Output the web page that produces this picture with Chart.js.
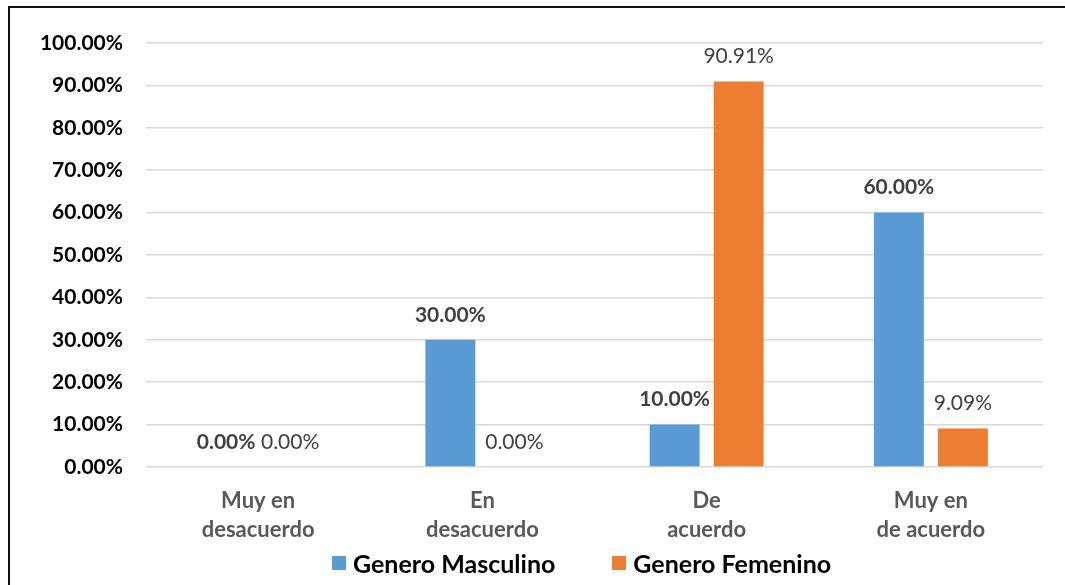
<!DOCTYPE html>
<html>
<head>
<meta charset="utf-8">
<script src="https://cdn.jsdelivr.net/npm/chart.js@4.4.1/dist/chart.umd.min.js"></script>
<style>
    html, body { margin: 0; padding: 0; background: #fff; }
    #wrap { position: relative; width: 1065px; height: 585px; overflow: hidden; }
    #frame { position: absolute; left: 8px; top: 6px; right: 0; bottom: 0;
             border-left: 2px solid #111; border-top: 2px solid #111; pointer-events: none; }
    #legend { position: absolute; left: 332px; top: 548px; display: flex; gap: 57px;
              font: bold 25px Lato, "Open Sans", sans-serif; color: #000; }
    #legend span.item { display: flex; align-items: center; }
    #legend span.box { width: 14px; height: 14px; margin-right: 7px; }
</style>
</head>
<body>
<div id="wrap">
    <canvas id="chart" width="1065" height="585"></canvas>
    <div id="legend"></div>
    <div id="frame"></div>
</div>
<script>
const categories = [['Muy en', 'desacuerdo'], ['En', 'desacuerdo'], ['De', 'acuerdo'], ['Muy en', 'de acuerdo']];
const masculino = [0, 30, 10, 60];
const femenino = [0, 0, 90.91, 9.09];
const yTicks = [0, 10, 20, 30, 40, 50, 60, 70, 80, 90, 100];

const FONT = 'Lato, "Open Sans", sans-serif';

// labels drawn above each bar, bold for the first series
const barLabels = {
    id: 'barLabels',
    afterDatasetsDraw(chart) {
        const ctx = chart.ctx;
        ctx.save();
        ctx.textAlign = 'center';
        ctx.textBaseline = 'middle';
        ctx.fillStyle = '#404040';
        chart.data.datasets.forEach((ds, i) => {
            ctx.font = (i === 0 ? 'bold ' : '') + '21px ' + FONT;
            chart.getDatasetMeta(i).data.forEach((bar, j) => {
                ctx.fillText(ds.data[j].toFixed(2) + '%', bar.x, bar.y - 25);
            });
        });
        ctx.restore();
    }
};

const chart = new Chart(document.getElementById('chart'), {
    type: 'bar',
    data: {
        labels: categories,
        datasets: [{
            label: 'Genero Masculino',
            data: masculino,
            backgroundColor: '#5B9BD5',
            barPercentage: 0.78,
            categoryPercentage: 0.571
        }, {
            label: 'Genero Femenino',
            data: femenino,
            backgroundColor: '#ED7D31',
            barPercentage: 0.78,
            categoryPercentage: 0.571
        }]
    },
    options: {
        responsive: false,
        animation: false,
        layout: { padding: { top: 43, right: 22, left: 0, bottom: 0 } },
        plugins: {
            tooltip: { enabled: false },
            legend: { display: false }
        },
        scales: {
            x: {
                grid: { display: false },
                border: { display: false },
                ticks: {
                    color: '#595959',
                    padding: 11,
                    maxRotation: 0,
                    font: { family: FONT, size: 22, weight: 'bold', lineHeight: 1.32 }
                },
                afterFit: s => { s.height = 118; }
            },
            y: {
                min: 0,
                max: 100,
                afterBuildTicks: s => { s.ticks = yTicks.map(v => ({ value: v })); },
                grid: { color: '#d9d9d9', lineWidth: 1.5, drawTicks: false },
                border: { display: false },
                ticks: {
                    color: '#000',
                    padding: 23,
                    font: { family: FONT, size: 21, weight: 'bold' },
                    callback: v => v.toFixed(2) + '%'
                },
                afterFit: s => { s.width = 146; }
            }
        }
    },
    plugins: [barLabels]
});

// html legend built from the datasets
const legendEl = document.getElementById('legend');
chart.data.datasets.forEach(ds => {
    const item = document.createElement('span');
    item.className = 'item';
    const box = document.createElement('span');
    box.className = 'box';
    box.style.background = ds.backgroundColor;
    item.appendChild(box);
    item.appendChild(document.createTextNode(ds.label));
    legendEl.appendChild(item);
});
</script>
</body>
</html>
